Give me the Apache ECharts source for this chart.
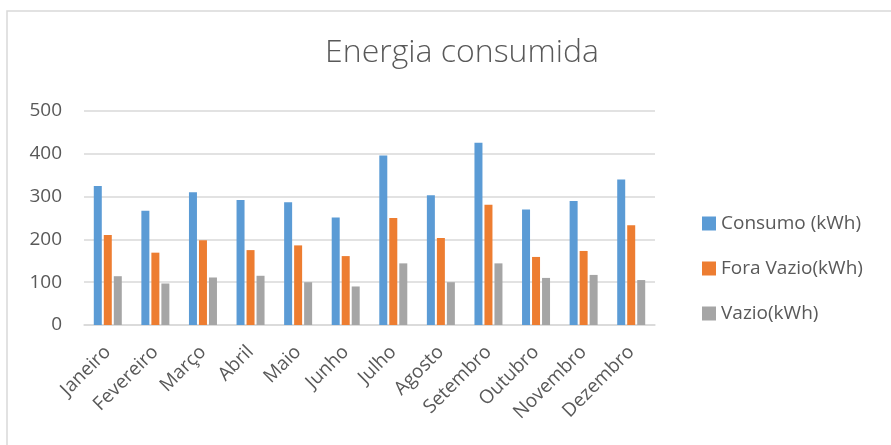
<!DOCTYPE html>
<html>
<head>
<meta charset="utf-8">
<script src="https://cdn.jsdelivr.net/npm/echarts@6/dist/echarts.min.js"></script>
<style>
  html, body { margin: 0; padding: 0; background: #ffffff; }
  #chart { width: 891px; height: 445px; }
</style>
</head>
<body>
<div id="chart"></div>
<script>
// Monthly energy consumption (kWh)
const months = ['Janeiro', 'Fevereiro', 'Março', 'Abril', 'Maio', 'Junho',
  'Julho', 'Agosto', 'Setembro', 'Outubro', 'Novembro', 'Dezembro'];
const consumo = [325, 267, 310, 292, 287, 251, 396, 303, 426, 270, 290, 340];
const foraVazio = [210, 169, 198, 175, 186, 161, 250, 203, 281, 159, 173, 233];
const vazio = [114, 97, 111, 115, 100, 90, 144, 100, 144, 110, 117, 105];
const yTicks = [0, 100, 200, 300, 400, 500];

const seriesNames = ['Consumo (kWh)', 'Fora Vazio(kWh)', 'Vazio(kWh)'];
const colors = ['#5B9BD5', '#ED7D31', '#A5A5A5'];
const font = '"Open Sans", "Noto Sans", sans-serif';
const textColor = '#595959';

const chart = echarts.init(document.getElementById('chart'));
chart.setOption({
  animation: false,
  backgroundColor: '#ffffff',
  color: colors,
  graphic: [{
    type: 'rect',
    shape: { x: 7, y: 11, width: 900, height: 450 },
    style: { fill: 'none', stroke: '#d9d9d9', lineWidth: 1.5 },
    silent: true
  }],
  title: {
    text: 'Energia consumida',
    left: 457,
    top: 32,
    textAlign: 'center',
    textStyle: { fontFamily: font, fontSize: 32, fontWeight: 300, color: textColor }
  },
  legend: {
    orient: 'vertical',
    left: 697,
    top: 209,
    itemWidth: 14,
    itemHeight: 14,
    itemGap: 26,
    icon: 'rect',
    textStyle: { fontFamily: font, fontSize: 19, color: textColor },
    data: seriesNames
  },
  grid: { left: 84, right: 236, top: 111, bottom: 120, containLabel: false },
  xAxis: {
    type: 'category',
    data: months,
    axisLine: { lineStyle: { color: '#d9d9d9', width: 1.5 } },
    axisTick: { show: false },
    axisLabel: {
      interval: 0,
      rotate: 45,
      margin: 24,
      fontFamily: font,
      fontSize: 19,
      color: textColor
    }
  },
  yAxis: {
    type: 'value',
    min: yTicks[0],
    max: yTicks[yTicks.length - 1],
    interval: 100,
    axisLine: { show: false },
    axisTick: { show: false },
    splitLine: { lineStyle: { color: '#d9d9d9', width: 1.5 } },
    axisLabel: { margin: 22, fontFamily: font, fontSize: 19, color: textColor }
  },
  series: [
    { name: seriesNames[0], type: 'bar', data: consumo, barWidth: 8, barGap: '25%' },
    { name: seriesNames[1], type: 'bar', data: foraVazio, barWidth: 8, barGap: '25%' },
    { name: seriesNames[2], type: 'bar', data: vazio, barWidth: 8, barGap: '25%' }
  ]
});
</script>
</body>
</html>
